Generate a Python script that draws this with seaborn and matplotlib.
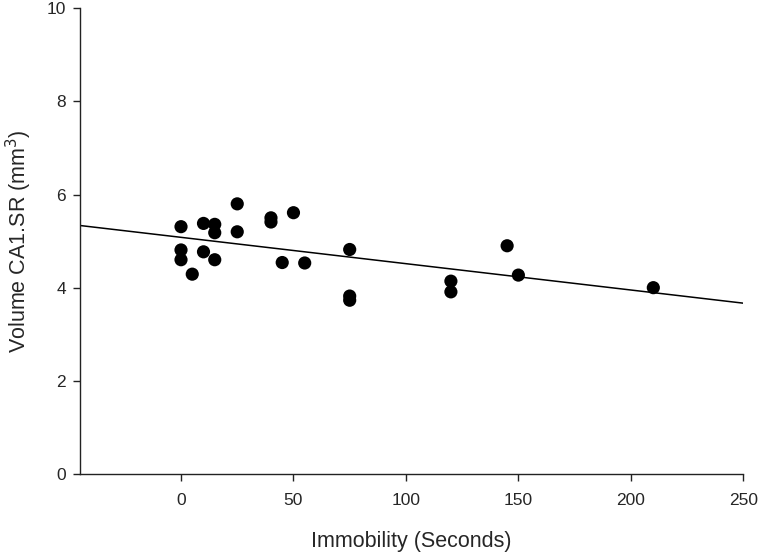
import numpy as np
import pandas as pd
import matplotlib
matplotlib.use("Agg")
import matplotlib.pyplot as plt
import seaborn as sns

# =============================
# DATA
# =============================
immobility = [0, 0, 0, 5, 10, 10, 15, 15, 15, 25, 25, 40, 40, 50, 45, 55,
              75, 75, 75, 120, 120, 145, 150, 210]
volume = [5.31, 4.81, 4.60, 4.29, 5.38, 4.77, 5.36, 5.18, 4.60, 5.80, 5.20,
          5.50, 5.41, 5.61, 4.54, 4.53, 4.82, 3.82, 3.73, 4.14, 3.91, 4.90,
          4.27, 4.00]

x_ticks = [0, 50, 100, 150, 200, 250]
y_ticks = [0, 2, 4, 6, 8, 10]

df = pd.DataFrame({"immobility": immobility, "volume": volume})

# =============================
# STYLE
# =============================
sns.set_style("white")
plt.rcParams["font.family"] = ["Liberation Sans", "DejaVu Sans"]

fig = plt.figure(figsize=(7.6, 5.53), dpi=100)
ax = fig.add_axes([0.105, 0.143, 0.873, 0.842])

ax.set_xlim(-45, 250)
ax.set_ylim(0, 10)

sns.regplot(
    data=df, x="immobility", y="volume", ax=ax,
    ci=None, truncate=False,
    scatter_kws={"s": 90, "color": "black", "edgecolor": "none", "alpha": 1},
    line_kws={"color": "black", "linewidth": 1.1},
)

ax.set_xlim(-45, 250)
ax.set_ylim(0, 10)
ax.set_xticks(x_ticks)
ax.set_yticks(y_ticks)

ax.spines["top"].set_visible(False)
ax.spines["right"].set_visible(False)
for side in ["left", "bottom"]:
    ax.spines[side].set_color("#222222")
    ax.spines[side].set_linewidth(1.0)

ax.tick_params(axis="both", direction="out", length=5, width=1.0,
               color="#222222", labelsize=12.5, bottom=True, left=True)
ax.tick_params(axis="x", pad=9)
ax.tick_params(axis="y", pad=5)

ax.set_xlabel("Immobility (Seconds)", fontsize=15.5, labelpad=16)
ax.set_ylabel("Volume CA1.SR (mm$^3$)", fontsize=15.5, labelpad=9)

plt.savefig("out.png", dpi=100)
